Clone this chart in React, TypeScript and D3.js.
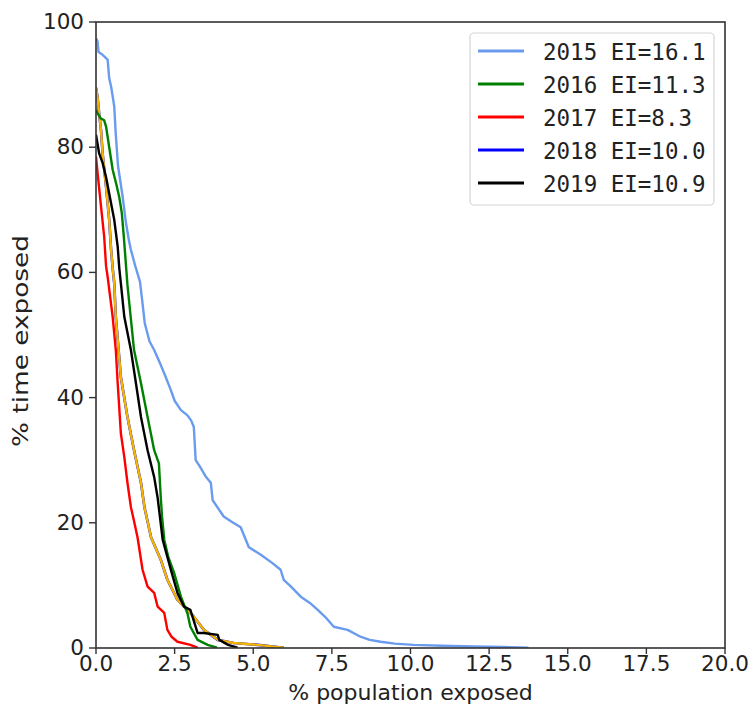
import React from "react";
import * as d3 from "d3";

type Pt = [number, number];

const xTicks = [0, 2.5, 5, 7.5, 10, 12.5, 15, 17.5, 20];
const yTicks = [0, 20, 40, 60, 80, 100];

const s2015: Pt[] = [
  [0, 97.4], [0.05, 96.9], [0.08, 95.2], [0.2, 94.8], [0.37, 94], [0.42, 91], [0.48, 89.7], [0.55, 87.5], [0.58, 86.5],
  [0.63, 82], [0.7, 77], [0.85, 72], [0.95, 68], [1.05, 65], [1.11, 63.6], [1.25, 61], [1.4, 58.5],
  [1.48, 55], [1.55, 51.9], [1.7, 49], [1.85, 47.6], [2.06, 45.2], [2.2, 43.5], [2.38, 41.2], [2.5, 39.5],
  [2.7, 38], [2.9, 37.2], [3.02, 36.4], [3.11, 35.3], [3.17, 30], [3.3, 29], [3.5, 27.3], [3.65, 26.4],
  [3.71, 23.6], [4.06, 21], [4.3, 20.2], [4.6, 19.3], [4.86, 16.1], [5.24, 14.9], [5.6, 13.6], [5.87, 12.5],
  [5.97, 10.9], [6.2, 9.8], [6.51, 8.2], [6.8, 7.2], [7.05, 6.1], [7.3, 4.9], [7.56, 3.4], [8.0, 2.9],
  [8.41, 1.8], [8.7, 1.3], [9.05, 1.0], [9.5, 0.7], [10.1, 0.5], [11.0, 0.35], [12.0, 0.25], [13.0, 0.15], [13.75, 0.05],
];

const s2016: Pt[] = [
  [0, 86], [0.05, 85.4], [0.15, 84.6], [0.26, 84.3], [0.32, 83.3], [0.42, 80], [0.53, 76.4], [0.65, 74],
  [0.74, 72], [0.82, 69.5], [0.88, 66], [0.94, 62], [1.0, 58], [1.08, 54], [1.21, 47.6], [1.43, 42.3],
  [1.64, 36.9], [1.85, 31.6], [2.0, 29.5], [2.06, 24], [2.1, 21], [2.17, 17.3], [2.3, 14.5], [2.49, 11.9],
  [2.7, 8.2], [2.91, 5.5], [3.0, 3.4], [3.23, 1.3], [3.55, 0.5], [3.85, 0.05],
];

const s2017: Pt[] = [
  [0, 78.5], [0.05, 75.9], [0.16, 70.5], [0.26, 65.7], [0.32, 61], [0.37, 59.3], [0.53, 52.9], [0.63, 47.6],
  [0.69, 42.3], [0.79, 34.3], [0.9, 30.5], [1.0, 26.4], [1.11, 22.5], [1.2, 20.5], [1.32, 17.7], [1.48, 12.5],
  [1.64, 9.8], [1.85, 8.8], [1.96, 6.6], [2.17, 5.6], [2.27, 2.9], [2.4, 1.8], [2.59, 1.0], [3.0, 0.5], [3.23, 0.05],
];

const s2018: Pt[] = [
  [0, 89.5], [0.05, 88], [0.1, 85.4], [0.16, 82.7], [0.21, 79], [0.32, 73.7], [0.42, 68.4], [0.48, 63.6],
  [0.53, 60.7], [0.58, 58.3], [0.63, 52.9], [0.79, 43.3], [1.0, 36.9], [1.21, 31.6], [1.43, 26.4], [1.54, 22.5],
  [1.75, 17.7], [2.06, 14.1], [2.27, 10.9], [2.59, 7.7], [2.8, 6.6], [3.11, 5.0], [3.43, 2.9], [3.87, 1.3],
  [4.38, 0.8], [5.14, 0.5], [5.97, 0.05],
];

const s2019: Pt[] = [
  [0, 82], [0.1, 79], [0.21, 77.5], [0.32, 75.2], [0.48, 71], [0.58, 68.4], [0.69, 64.1], [0.74, 60.7],
  [0.79, 58.3], [0.9, 52.9], [1.11, 47.6], [1.27, 42.3], [1.43, 36.9], [1.64, 31.6], [1.85, 27.3], [1.96, 24],
  [2.12, 17.3], [2.38, 12.5], [2.59, 8.8], [2.8, 6.6], [3.0, 6.1], [3.23, 2.4], [3.43, 2.4], [3.87, 2.1],
  [3.92, 1.3], [4.2, 0.5], [4.5, 0.05],
];

const legendLabels = ["2015 EI=16.1", "2016 EI=11.3", "2017 EI=8.3", "2018 EI=10.0", "2019 EI=10.9"];
const legendColors = ["#6a9bef", "#008000", "#ff0000", "#0000ff", "#000000"];

export default function App() {
  const W = 755, H = 713;
  const left = 96, right = 725, top = 22, bottom = 648;
  const x = d3.scaleLinear().domain([0, 20]).range([left, right]);
  const y = d3.scaleLinear().domain([0, 100]).range([bottom, top]);
  const line = d3.line<Pt>().x((d) => x(d[0])).y((d) => y(d[1]));
  const sans = "'DejaVu Sans', sans-serif";
  const mono = "'DejaVu Sans Mono', monospace";
  const axisColor = "#333";

  const series: { data: Pt[]; color: string; w: number }[] = [
    { data: s2015, color: legendColors[0], w: 2.4 },
    { data: s2018, color: "#0000ff", w: 2.6 },
    { data: s2018, color: "#f4b400", w: 2.4 },
    { data: s2016, color: legendColors[1], w: 2.4 },
    { data: s2017, color: legendColors[2], w: 2.4 },
    { data: s2019, color: legendColors[4], w: 2.4 },
  ];

  return (
    <svg width={W} height={H} style={{ position: "absolute", left: 0, top: 0, background: "#fff" }}>
      <rect x={0} y={0} width={W} height={H} fill="#fff" />
      <defs>
        <clipPath id="plot">
          <rect x={left} y={top} width={right - left} height={bottom - top} />
        </clipPath>
      </defs>
      <g clipPath="url(#plot)">
        {series.map((s, i) => (
          <path key={i} d={line(s.data) || ""} fill="none" stroke={s.color} strokeWidth={s.w} strokeLinejoin="round" />
        ))}
      </g>
      <rect x={left} y={top} width={right - left} height={bottom - top} fill="none" stroke={axisColor} strokeWidth={1.6} />
      {xTicks.map((t) => (
        <g key={"x" + t}>
          <line x1={x(t)} x2={x(t)} y1={bottom} y2={bottom + 6} stroke={axisColor} strokeWidth={1.4} />
          <text x={x(t)} y={bottom + 23} textAnchor="middle" fontFamily={sans} fontSize={21.5} fill="#222">
            {t.toFixed(1)}
          </text>
        </g>
      ))}
      {yTicks.map((t) => (
        <g key={"y" + t}>
          <line x1={left - 7} x2={left} y1={y(t)} y2={y(t)} stroke={axisColor} strokeWidth={1.4} />
          <text x={left - 12} y={y(t) + 7} textAnchor="end" fontFamily={sans} fontSize={21.5} fill="#222">
            {t}
          </text>
        </g>
      ))}
      <text x={(left + right) / 2} y={700} textAnchor="middle" fontFamily={sans} fontSize={22} fill="#222">
        % population exposed
      </text>
      <text
        transform={`translate(28, 341) rotate(-90)`}
        textAnchor="middle"
        fontFamily={sans}
        fontSize={22}
        textLength={212}
        lengthAdjust="spacingAndGlyphs"
        fill="#222"
      >
        % time exposed
      </text>
      <g>
        <rect x={470} y={33} width={244} height={172} rx={4} fill="#fff" stroke="#d5d5d5" strokeWidth={1.2} />
        {legendLabels.map((l, i) => {
          const yy = 51 + i * 33;
          return (
            <g key={l}>
              <line x1={478} x2={524} y1={yy} y2={yy} stroke={legendColors[i]} strokeWidth={2.8} />
              <text x={543} y={yy + 8.5} fontFamily={mono} fontSize={22.5} fill="#222">
                {l}
              </text>
            </g>
          );
        })}
      </g>
    </svg>
  );
}
